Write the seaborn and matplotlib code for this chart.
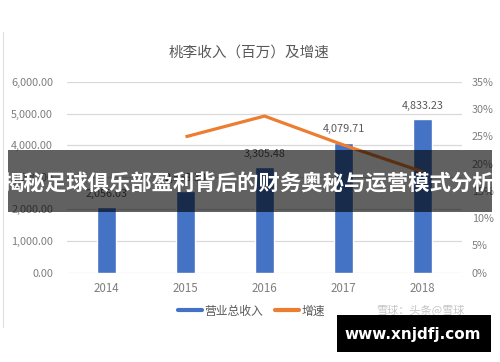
import matplotlib
matplotlib.use("Agg")
import matplotlib.pyplot as plt
from matplotlib.lines import Line2D
from matplotlib.patches import Rectangle
import seaborn as sns
import pandas as pd

# ---- data ----
years = ["2014", "2015", "2016", "2017", "2018"]
revenue = [2056.03, 2568.30, 3305.48, 4079.71, 4833.23]
revenue_labels = ["2,056.03", "2,568.30", "3,305.48", "4,079.71", "4,833.23"]
growth_years = ["2015", "2016", "2017", "2018"]
growth = [24.9, 28.7, 23.4, 18.5]
left_ticks = [0, 1000, 2000, 3000, 4000, 5000, 6000]
right_ticks = [0, 5, 10, 15, 20, 25, 30, 35]

title = "桃李收入（百万）及增速"
legend_names = ["营业总收入", "增速"]
banner = "揭秘足球俱乐部盈利背后的财务奥秘与运营模式分析"
source = "雪球：头条@雪球"
site = "www.xnjdfj.com"

sns.set_theme(style="white")
plt.rcParams["font.family"] = ["Noto Sans CJK SC", "DejaVu Sans"]

BLUE = "#4472C4"
ORANGE = "#ED7D31"
TICK = "#7f7f7f"
GRID = "#d9d9d9"

fig = plt.figure(figsize=(5.0, 3.62), dpi=100)
fig.patch.set_facecolor("white")
ax = fig.add_axes([0.134, 0.2467, 0.79, 0.5276])

df_bar = pd.DataFrame({"year": years, "revenue": revenue})
sns.barplot(data=df_bar, x="year", y="revenue", color=BLUE, width=0.25,
            saturation=1, ax=ax, zorder=3)
ax.set_xlim(-0.5, 4.5)
ax.set_ylim(0, 6000)
ax.set_yticks(left_ticks)
ax.set_yticklabels([f"{v:,.2f}" for v in left_ticks])
ax.grid(axis="y", color=GRID, linewidth=0.9, zorder=0)
ax.set_axisbelow(True)
for s in ax.spines.values():
    s.set_visible(False)
ax.tick_params(axis="y", length=0, pad=10, labelsize=7.8, labelcolor=TICK)
ax.tick_params(axis="x", length=0, pad=7, labelsize=8.3, labelcolor=TICK)
ax.set_xlabel("")
ax.set_ylabel("")

for i, (v, lab) in enumerate(zip(revenue, revenue_labels)):
    ax.annotate(lab, (i, v), xytext=(0, 6), textcoords="offset points",
                ha="center", va="bottom", fontsize=7.8, color="#595959")

ax2 = ax.twinx()
df_line = pd.DataFrame({"x": [years.index(y) for y in growth_years], "g": growth})
sns.lineplot(data=df_line, x="x", y="g", color=ORANGE, linewidth=2.3, ax=ax2,
             solid_capstyle="butt", zorder=4)
ax2.set_ylim(0, 35)
ax2.set_yticks(right_ticks)
ax2.set_yticklabels([f"{v}%" for v in right_ticks])
ax2.tick_params(axis="y", length=0, pad=7, labelsize=7.8, labelcolor=TICK)
ax2.set_ylabel("")
ax2.set_xlabel("")
for s in ax2.spines.values():
    s.set_visible(False)
ax2.grid(False)
ax2.set_xlim(-0.5, 4.5)

fig.text(0.498, 1 - 53 / 362, title, ha="center", va="center",
         fontsize=10.5, fontweight="medium", color="#595959")

handles = [Line2D([0], [0], color=BLUE, linewidth=3),
           Line2D([0], [0], color=ORANGE, linewidth=3)]
fig.legend(handles, legend_names, loc="center", bbox_to_anchor=(0.503, 1 - 311 / 362),
           ncol=2, frameon=False, fontsize=8.5, handlelength=2.0, handletextpad=0.25,
           columnspacing=1.0, labelcolor="#595959")

fig.text(0.84, 1 - 310 / 362, source, ha="center", va="center",
         fontsize=8, color="#c4c4c4")

# faint left border of the original chart image
fig.add_artist(Line2D([3 / 500, 3 / 500], [1 - 32 / 362, 1 - 327 / 362],
                      color="#e0e0e0", linewidth=0.8, transform=fig.transFigure))

# overlay banner
fig.patches.append(Rectangle((8 / 500, 1 - 212 / 362), 484 / 500, 62 / 362,
                             transform=fig.transFigure, facecolor="black",
                             alpha=0.62, edgecolor="none", zorder=10))
fig.text(0.496, 1 - 184 / 362, banner, ha="center", va="center",
         fontsize=15.4, fontweight="bold", color="white", zorder=11)

# site box
fig.patches.append(Rectangle((337 / 500, 1 - 352 / 362), 154 / 500, 37 / 362,
                             transform=fig.transFigure, facecolor="black",
                             edgecolor="none", zorder=10))
fig.text(413 / 500, 1 - 334 / 362, site, ha="center", va="center",
         fontsize=11, fontweight="bold", color="white", zorder=11,
         family="DejaVu Sans")

fig.savefig("out.png", dpi=100)
